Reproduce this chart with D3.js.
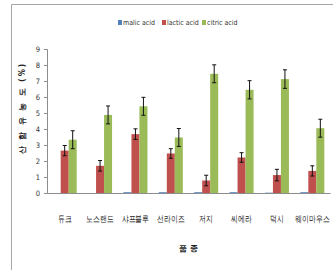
<!DOCTYPE html>
<html>
<head>
<meta charset="utf-8">
<script src="https://cdn.jsdelivr.net/npm/d3@7"></script>
<style>
  body { margin: 0; background: #fff; }
  text { font-family: "Liberation Sans Narrow", "DejaVu Sans Condensed", sans-serif; }
</style>
</head>
<body>
<div id="chart-area"></div>
<script>
const varieties = ["듀크", "노스랜드", "샤프블루", "선라이즈", "저지", "씨에라", "덕시", "웨이마우스"]
const seriesNames = ["malic acid", "lactic acid", "citric acid"]
const malic = [0, 0, 0.05, 0.05, 0.05, 0.05, 0.02, 0.05]
const lactic = [2.65, 1.7, 3.68, 2.47, 0.78, 2.22, 1.12, 1.38]
const citric = [3.33, 4.88, 5.42, 3.47, 7.45, 6.45, 7.12, 4.05]
const malicErr = [0, 0, 0, 0, 0, 0, 0, 0]
const lacticErr = [0.32, 0.33, 0.33, 0.3, 0.33, 0.3, 0.36, 0.32]
const citricErr = [0.56, 0.56, 0.56, 0.56, 0.56, 0.57, 0.58, 0.56]
const yTicks = [0, 1, 2, 3, 4, 5, 6, 7, 8, 9]
const colors = ["#4F81BD", "#C0504D", "#9BBB59"]

const W = 333, H = 270
const MARGIN = { LEFT: 47, RIGHT: 3, TOP: 49, BOTTOM: 77 }
const WIDTH = W - MARGIN.LEFT - MARGIN.RIGHT
const HEIGHT = H - MARGIN.TOP - MARGIN.BOTTOM

const svg = d3.select("#chart-area").append("svg")
  .attr("width", W)
  .attr("height", H)

// frame (left + top border)
svg.append("path")
  .attr("d", `M11.5,${H} L11.5,4.5 L${W},4.5`)
  .attr("fill", "none")
  .attr("stroke", "#a6a6a6")
  .attr("stroke-width", 1)

const g = svg.append("g")
  .attr("transform", `translate(${MARGIN.LEFT}, ${MARGIN.TOP})`)

const values = [malic, lactic, citric]
const errs = [malicErr, lacticErr, citricErr]
const data = []
varieties.forEach((v, i) => {
  seriesNames.forEach((s, j) => {
    data.push({ variety: v, series: s, idx: j, value: values[j][i], err: errs[j][i] })
  })
})

const x = d3.scaleBand()
  .domain(varieties)
  .range([0, WIDTH])
  .paddingInner(0)
  .paddingOuter(0)

const xSub = d3.scaleBand()
  .domain(seriesNames)
  .range([x.bandwidth() / 2 - 12, x.bandwidth() / 2 + 12])

const y = d3.scaleLinear()
  .domain([0, 9])
  .range([HEIGHT, 0])

// y axis
const yAxis = g.append("g")
  .attr("class", "y axis")
  .call(d3.axisLeft(y).tickValues(yTicks).tickSize(3).tickFormat(d => d))
yAxis.select(".domain").attr("stroke", "#8c8c8c")
yAxis.selectAll(".tick line").attr("stroke", "#8c8c8c")
yAxis.selectAll("text")
  .attr("font-size", "7.5px")
  .attr("fill", "#333")
  .attr("x", -7)

// bars
g.selectAll("rect.bar")
  .data(data)
  .enter().append("rect")
  .attr("class", "bar")
  .attr("x", d => x(d.variety) + xSub(d.series))
  .attr("y", d => y(d.value))
  .attr("width", xSub.bandwidth())
  .attr("height", d => HEIGHT - y(d.value))
  .attr("fill", d => colors[d.idx])

// error bars
const eb = g.selectAll("g.err")
  .data(data.filter(d => d.err > 0))
  .enter().append("g")
  .attr("class", "err")
  .attr("transform", d => `translate(${x(d.variety) + xSub(d.series) + xSub.bandwidth() / 2}, 0)`)
eb.append("line")
  .attr("x1", 0).attr("x2", 0)
  .attr("y1", d => y(d.value + d.err))
  .attr("y2", d => y(d.value - d.err))
  .attr("stroke", "#111").attr("stroke-width", 1)
eb.append("line")
  .attr("x1", -2).attr("x2", 2)
  .attr("y1", d => y(d.value + d.err)).attr("y2", d => y(d.value + d.err))
  .attr("stroke", "#111").attr("stroke-width", 1)
eb.append("line")
  .attr("x1", -2).attr("x2", 2)
  .attr("y1", d => y(d.value - d.err)).attr("y2", d => y(d.value - d.err))
  .attr("stroke", "#111").attr("stroke-width", 1)

// x axis
const xAxis = g.append("g")
  .attr("class", "x axis")
  .attr("transform", `translate(0, ${HEIGHT})`)
  .call(d3.axisBottom(x).tickSize(0).tickSizeOuter(0))
xAxis.select(".domain").attr("stroke", "#8c8c8c")
xAxis.selectAll("text")
  .attr("font-family", "Noto Sans CJK KR")
  .attr("font-size", "9px")
  .attr("fill", "#222")
  .attr("y", 23)
  .attr("transform", "scale(0.76,1)")

// X label
g.append("text")
  .attr("x", WIDTH / 2)
  .attr("y", HEIGHT + 58)
  .attr("font-family", "Noto Sans CJK KR")
  .attr("font-size", "8px")
  .attr("font-weight", "bold")
  .attr("text-anchor", "middle")
  .attr("fill", "#222")
  .text("품 종")

// Y label
g.append("text")
  .attr("transform", `translate(-22, 59) rotate(-90)`)
  .attr("font-family", "Noto Sans CJK KR")
  .attr("font-size", "8px")
  .attr("font-weight", "bold")
  .attr("letter-spacing", "2px")
  .attr("text-anchor", "middle")
  .attr("fill", "#222")
  .text("산 함 유 농 도 (%)")

// legend
const legendX = [118, 162, 202]
const legend = svg.append("g")
  .selectAll("g")
  .data(seriesNames)
  .enter().append("g")
  .attr("transform", (d, i) => `translate(${legendX[i]}, 20)`)
legend.append("rect")
  .attr("width", 4).attr("height", 5)
  .attr("fill", (d, i) => colors[i])
legend.append("text")
  .attr("x", 5).attr("y", 5)
  .attr("font-size", "7px")
  .attr("fill", "#333")
  .text(d => d)
</script>
</body>
</html>
